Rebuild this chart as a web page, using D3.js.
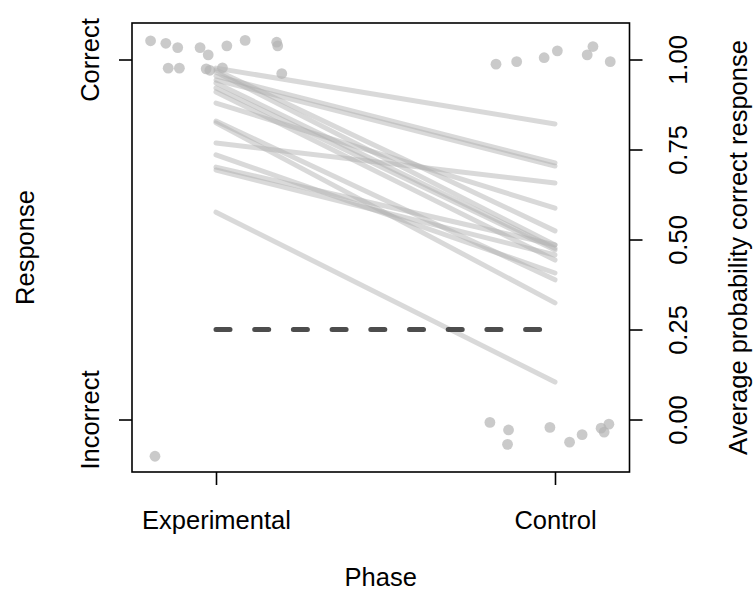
<!DOCTYPE html>
<html>
<head>
<meta charset="utf-8">
<script src="https://cdn.jsdelivr.net/npm/d3@7/dist/d3.min.js"></script>
<style>
  html, body { margin: 0; padding: 0; background: #fff; }
  svg text { font-family: "Liberation Sans", Arial, sans-serif; fill: #000; }
</style>
</head>
<body>
<svg id="chart" width="753" height="592"></svg>
<script>
// ---- Data ----
const phases = ["Experimental", "Control"];
const yTickLabelsLeft = ["Incorrect", "Correct"];
const yTicksRight = [0, 0.25, 0.5, 0.75, 1.0];
const chanceLevel = 0.25;

// per-subject predicted probability of correct response (Experimental, Control)
const expProb = [0.976, 0.954, 0.943, 0.879, 0.971, 0.965, 0.935, 0.921, 0.910, 0.829, 0.824, 0.768, 0.735, 0.701, 0.693, 0.576];
const ctrlProb = [0.821, 0.713, 0.704, 0.587, 0.524, 0.485, 0.476, 0.471, 0.443, 0.388, 0.324, 0.657, 0.407, 0.485, 0.457, 0.104];

// jittered raw responses (x = phase index 1/2 + jitter, y = 0/1 + jitter)
const pointX = [0.807, 0.852, 0.887, 0.953, 0.977, 1.032, 1.086, 1.179, 1.182, 0.859, 0.892, 0.971, 0.982, 1.019, 1.194, 0.820,
                1.826, 1.887, 1.968, 2.007, 2.095, 2.112, 2.163,
                1.808, 1.863, 1.860, 1.985, 2.043, 2.080, 2.136, 2.145, 2.159];
const pointY = [1.052, 1.045, 1.033, 1.033, 1.013, 1.038, 1.053, 1.048, 1.038, 0.976, 0.976, 0.974, 0.970, 0.977, 0.961, -0.102,
                0.987, 0.994, 1.005, 1.024, 1.013, 1.036, 0.994,
                -0.008, -0.029, -0.069, -0.022, -0.063, -0.042, -0.024, -0.035, -0.013];

// ---- Layout ----
const svg = d3.select("#chart");
const box = { left: 132, right: 629.5, top: 23, bottom: 472 };
const x = d3.scaleLinear().domain([0.7522, 2.2198]).range([box.left, box.right]);
const y = d3.scaleLinear().domain([-0.1458, 1.1014]).range([box.bottom, box.top]);
const fontSize = 25.5;

// subject lines
const lineGen = d3.line().x(d => x(d[0])).y(d => y(d[1]));
svg.append("g").selectAll("path")
  .data(expProb.map((v, i) => [[1, v], [2, ctrlProb[i]]]))
  .join("path")
  .attr("d", lineGen)
  .attr("fill", "none")
  .attr("stroke", "#b0b0b0")
  .attr("stroke-opacity", 0.48)
  .attr("stroke-width", 5)
  .attr("stroke-linecap", "round");

// chance line
svg.append("path")
  .attr("d", lineGen([[1, chanceLevel], [2, chanceLevel]]))
  .attr("stroke", "#4d4d4d")
  .attr("stroke-width", 5)
  .attr("stroke-linecap", "round")
  .attr("stroke-dasharray", "14,24.7");

// points
svg.append("g").selectAll("circle")
  .data(pointX.map((v, i) => [v, pointY[i]]))
  .join("circle")
  .attr("cx", d => x(d[0]))
  .attr("cy", d => y(d[1]))
  .attr("r", 5.4)
  .attr("fill", "#b4b4b4")
  .attr("fill-opacity", 0.7);

// box
svg.append("rect")
  .attr("x", box.left).attr("y", box.top)
  .attr("width", box.right - box.left).attr("height", box.bottom - box.top)
  .attr("fill", "none").attr("stroke", "#000").attr("stroke-width", 1.6);

const tickLen = 13;

// bottom axis
const xAxis = d3.axisBottom(x).tickValues([1, 2]).tickSize(tickLen).tickFormat((d, i) => phases[i]);
const gx = svg.append("g").attr("transform", `translate(0,${box.bottom})`).call(xAxis);
gx.select(".domain").remove();
gx.selectAll(".tick line").attr("stroke-width", 1.6);
gx.selectAll(".tick text").attr("font-size", fontSize).attr("dy", 0).attr("y", 57);

// left axis
const yAxisL = d3.axisLeft(y).tickValues([0, 1]).tickSize(tickLen).tickFormat((d, i) => yTickLabelsLeft[i]);
const gyl = svg.append("g").attr("transform", `translate(${box.left},0)`).call(yAxisL);
gyl.select(".domain").remove();
gyl.selectAll(".tick line").attr("stroke-width", 1.6);
gyl.selectAll(".tick text")
  .attr("font-size", fontSize)
  .attr("x", null).attr("dy", null)
  .attr("text-anchor", "middle")
  .attr("transform", "translate(-33,0) rotate(-90)");

// right axis
const yAxisR = d3.axisRight(y).tickValues(yTicksRight).tickSize(tickLen).tickFormat(d3.format(".2f"));
const gyr = svg.append("g").attr("transform", `translate(${box.right},0)`).call(yAxisR);
gyr.select(".domain").remove();
gyr.selectAll(".tick line").attr("stroke-width", 1.6);
gyr.selectAll(".tick text")
  .attr("font-size", fontSize)
  .attr("x", null).attr("dy", null)
  .attr("text-anchor", "middle")
  .attr("transform", "translate(57.5,0) rotate(-90)");

// axis titles
const midX = (box.left + box.right) / 2;
const midY = (box.top + box.bottom) / 2;
svg.append("text").attr("x", midX).attr("y", 586).attr("text-anchor", "middle")
  .attr("font-size", fontSize).text("Phase");
svg.append("text").attr("transform", `translate(34,${midY}) rotate(-90)`).attr("text-anchor", "middle")
  .attr("font-size", fontSize).text("Response");
svg.append("text").attr("transform", `translate(747,${midY}) rotate(-90)`).attr("text-anchor", "middle")
  .attr("font-size", fontSize).text("Average probability correct response");
</script>
</body>
</html>
